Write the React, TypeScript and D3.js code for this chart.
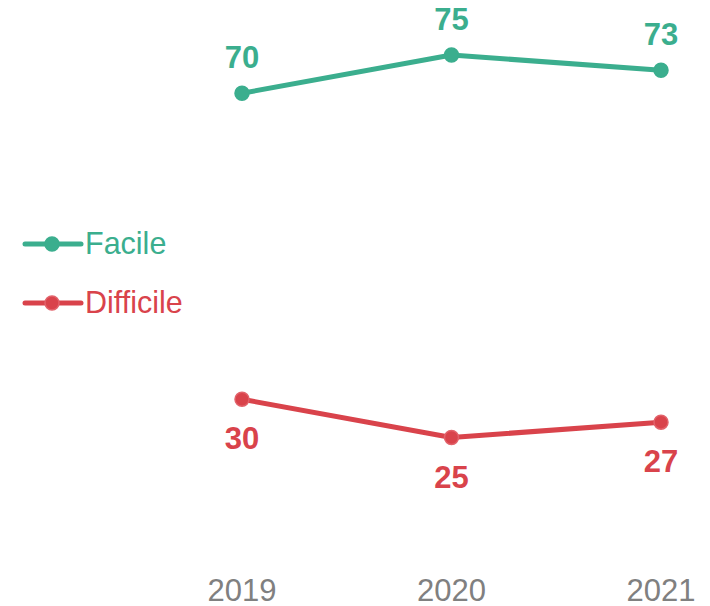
import React from "react";
import * as d3 from "d3";

const years = ["2019", "2020", "2021"];
const facile = [70, 75, 73];
const difficile = [30, 25, 27];
const seriesNames = ["Facile", "Difficile"];
const colors = ["#3BAE8E", "#D9434B"];

export default function App() {
  const W = 710, H = 606;
  const x = d3.scalePoint<string>().domain(years).range([242, 661]);
  const y = d3.scaleLinear().domain([25, 75]).range([437.5, 55]);
  const line = d3.line<number>().x((_, i) => x(years[i])!).y((d) => y(d));
  const series = [facile, difficile];
  const font = "Arial, 'Liberation Sans', sans-serif";
  return (
    <svg width={W} height={H} style={{ position: "absolute", left: 0, top: 0, background: "#fff" }} fontFamily={font}>
      {series.map((s, si) => (
        <g key={si}>
          <path d={line(s)!} fill="none" stroke={colors[si]} strokeWidth={5} strokeLinejoin="round" />
          {s.map((v, i) => (
            <g key={i}>
              <circle cx={x(years[i])} cy={y(v)} r={7} fill={colors[si]} stroke={si === 1 ? "#E2626A" : colors[si]} strokeWidth={1.5} />
              <text
                x={x(years[i])}
                y={si === 0 ? y(v) - 25 : y(v) + 50}
                textAnchor="middle"
                fontWeight="bold"
                fontSize={31}
                fill={colors[si]}
              >
                {v}
              </text>
            </g>
          ))}
        </g>
      ))}
      {years.map((yr) => (
        <text key={yr} x={x(yr)} y={601} textAnchor="middle" fontSize={31} fill="#808080">
          {yr}
        </text>
      ))}
      {seriesNames.map((n, i) => {
        const ly = 244 + i * 59;
        return (
          <g key={n}>
            <line x1={25} x2={81} y1={ly} y2={ly} stroke={colors[i]} strokeWidth={5} strokeLinecap="round" />
            <circle cx={52} cy={ly} r={7} fill={colors[i]} stroke={i === 1 ? "#E2626A" : colors[i]} strokeWidth={1.5} />
            <text x={85} y={ly + 10} fontSize={30.5} fill={colors[i]}>
              {n}
            </text>
          </g>
        );
      })}
    </svg>
  );
}
